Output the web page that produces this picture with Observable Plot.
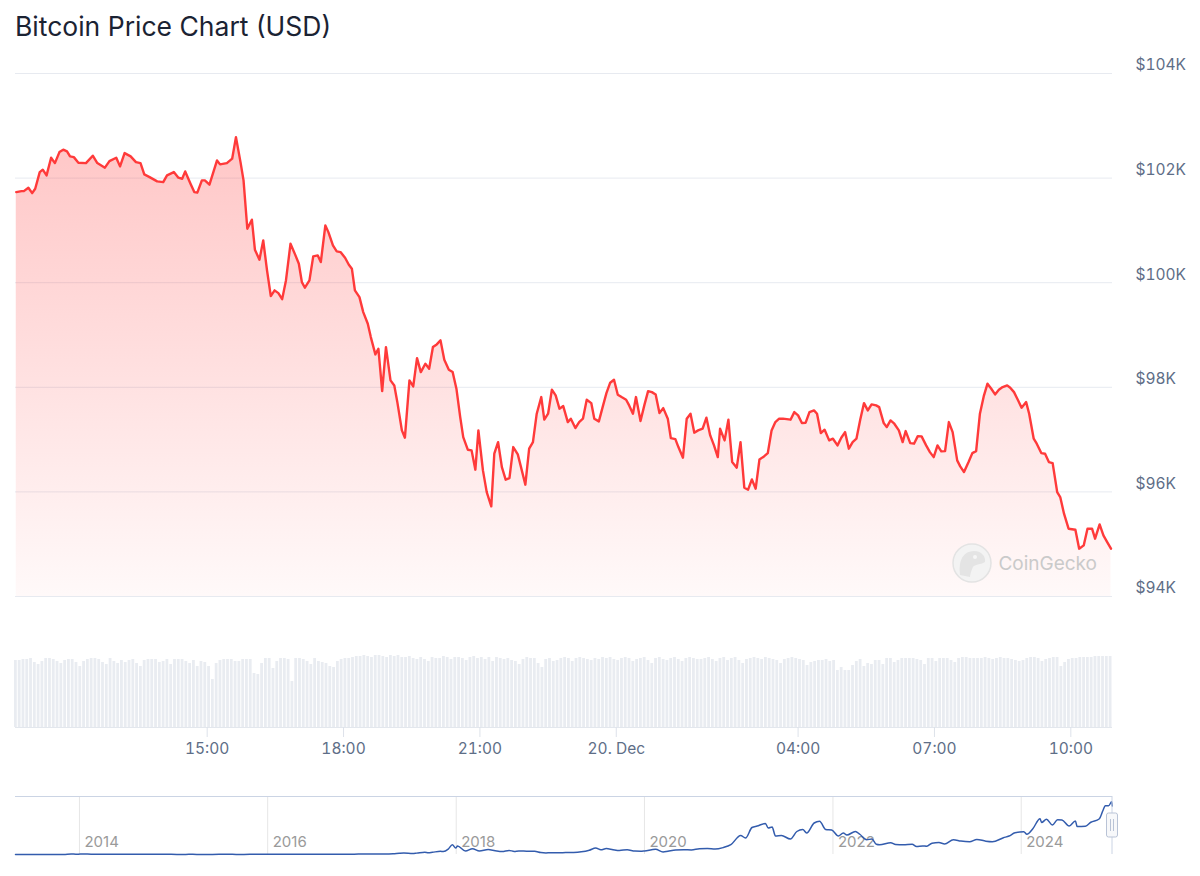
<!DOCTYPE html>
<html>
<head>
<meta charset="utf-8">
<script src="https://cdn.jsdelivr.net/npm/d3@7"></script>
<script src="https://cdn.jsdelivr.net/npm/@observablehq/plot@0.6"></script>
<style>
  html, body { margin: 0; padding: 0; background: #fff; }
  #wrap { position: relative; width: 1200px; height: 876px; overflow: hidden; font-family: Inter, "Noto Sans", sans-serif; }
  #title { position: absolute; left: 15px; top: 11px; font-size: 26.5px; line-height: 30px; color: #1b2333; z-index: 5; font-weight: 400; }
  .layer { position: absolute; left: 0; }
</style>
</head>
<body>
<div id="wrap">
  <div id="title">Bitcoin Price Chart (USD)</div>
  <div id="price" class="layer" style="top:0px"></div>
  <div id="volume" class="layer" style="top:620px"></div>
  <div id="nav" class="layer" style="top:780px"></div>
</div>
<script>
// ---------- data ----------
// minutes after 2024-12-19 00:00 UTC
const priceMinutes = [
648,655,658,664,669,673,679,683,688,694,699,705,710,715,719,724,730,740,749,755,
765,771,780,785,791,799,806,812,817,824,834,842,847,856,862,867,871,878,883,887,
893,897,903,913,917,926,933,938,944,948,953,
959,963,969,974,979,984,989,994,999,1004,1010,1016,1021,1025,1029,1035,1040,1046,1050,1056,
1060,1066,1071,1076,1082,1087,1091,1095,1101,1106,1112,1116,1122,1126,1131,1136,1142,1147,1151,1157,
1161,1167,1172,1177,1182,1188,1193,1198,1203,1208,1213,1219,1224,1229,1234,1238,1244,1249,1254,1258,
1264,1269,1275,1279,1284,1289,1294,1299,1304,1310,1314,1320,1325,1330,1335,1341,1345,1350,1355,1360,
1365,1370,1376,1380,1386,1391,1396,1401,1407,1411,1417,1422,1427,1432,1437,1442,1447,1453,1457,1462,
1466,1472,1477,1482,1487,1492,1497,1502,1508,1512,1518,1522,1528,1533,1538,1543,1548,1554,1559,1564,
1569,1574,1577,
1583,1588,1593,1599,1604,1609,1614,1619,1624,1629,1635,1640,1645,1650,1655,1660,1670,1675,1680,1685,
1690,1695,1701,1705,1710,1715,1721,1726,1732,1737,1742,1747,1752,1757,1762,1767,1772,1777,1783,1787,
1793,1797,1802,1807,1813,1818,1822,1828,1833,1838,1843,1849,1854,1859,1864,1869,1874,1879,1884,1890,
1894,
1899,1905,1910,1915,1920,1925,1930,1935,1940,1945,1950,1956,1960,1965,1970,1975,1981,1985,1991,1995,
2001,2006,2011,2016,2022,2026,2031,2037,2046,2051,2057,2062,2068,2072,2078,2083,2088,2093
];
const priceUSD = [
101732,101751,101751,101816,101713,101797,102115,102161,102052,102390,102287,102497,102543,102510,102415,102401,102294,102287,102428,102287,
102199,102325,102390,102224,102478,102415,102306,102287,102071,102019,101937,101924,102052,102115,102008,101988,102128,101893,101732,101721,
101956,101956,101874,102338,102262,102287,102371,102784,102306,101956,101032,
101205,100631,100440,100809,100235,99744,99853,99801,99686,100044,100746,100541,100363,100011,99904,100044,100503,100522,100394,101096,
100967,100713,100598,100585,100478,100344,100268,99853,99725,99438,99216,98960,98629,98738,97927,98769,98132,98036,97717,97176,
97036,98132,98017,98558,98291,98451,98356,98769,98820,98897,98528,98337,98291,97973,97430,97048,96807,96794,96425,97176,
96411,95996,95723,96730,96952,96474,96233,96264,96857,96717,96488,96138,96826,96952,97495,97813,97381,97495,97954,97845,
97591,97641,97335,97400,97220,97335,97400,97763,97698,97400,97348,97621,97889,98088,98145,97859,97813,97763,97654,97495,
97813,97354,97654,97927,97908,97864,97507,97602,97400,97029,97010,96857,96654,97400,97495,97132,97176,97208,97419,97080,
96889,96665,97208,
96985,97381,96570,96463,96952,96080,96042,96239,96061,96621,96679,96742,97176,97335,97400,97400,97381,97526,97463,97316,
97323,97526,97558,97495,97124,97189,96985,97017,96889,97036,97143,96826,96952,97017,97381,97698,97558,97673,97654,97621,
97316,97239,97367,97304,97176,96952,97163,96933,96922,97067,97061,96889,96761,96665,96889,96774,96780,97335,97143,96602,
96488,
96379,96570,96742,96780,97495,97826,98069,97973,97864,97954,98004,98036,97992,97908,97763,97610,97717,97495,97017,96922,
96742,96730,96570,96551,95996,95901,95583,95296,95277,94914,94977,95296,95296,95105,95379,95168,95040,94914
];
// 5-minute volume bars (relative height units), first bar starts at minute 645
const volumeStartMinute = 645;
const volumeStepMinutes = 5;
const volume = [
67,67,68,68,69,65,63,66,69,69,68,66,64,67,68,68,65,61,66,68,69,69,68,65,63,69,
66,64,67,65,67,68,64,61,67,68,68,68,65,66,68,63,68,68,68,66,64,67,61,66,65,61,
48,64,67,68,68,68,66,66,68,68,68,54,53,64,69,69,59,66,69,69,68,46,69,69,68,
66,63,69,66,65,64,61,60,66,68,69,69,70,71,71,72,71,70,72,72,71,70,72,71,72,70,
70,71,69,68,70,68,66,70,69,69,71,70,68,70,70,69,67,70,71,69,70,68,70,66,70,69,
68,69,67,66,63,68,70,69,69,64,60,68,69,66,67,69,70,69,66,69,70,69,68,67,69,68,70,
69,70,68,67,69,70,69,66,68,69,70,67,64,69,70,68,67,69,70,68,66,69,70,69,68,68,
69,70,68,66,69,70,67,69,70,67,64,68,69,70,69,68,70,69,68,67,64,68,69,70,69,68,
67,62,65,66,67,67,68,66,67,57,60,57,57,62,66,68,61,64,63,67,67,63,69,69,65,67,69,
69,69,69,68,67,63,69,69,66,69,69,69,67,65,69,70,70,69,69,69,69,70,69,68,69,70,
69,69,68,67,66,67,69,70,70,69,66,68,69,70,70,61,65,68,69,69,70,70,70,70,71,71,71,71,71
];
const xDomainMinutes = [647, 2095];
const xTickMinutes = [900, 1080, 1260, 1440, 1680, 1860, 2040];
const xTickLabels = ["15:00", "18:00", "21:00", "20. Dec", "04:00", "07:00", "10:00"];
const yTicks = [94000, 96000, 98000, 100000, 102000, 104000];
const yTickLabels = ["$94K", "$96K", "$98K", "$100K", "$102K", "$104K"];

// navigator: full history
const navDates = [
"2013-04-28","2013-06-01","2013-07-05","2013-08-01","2013-09-01","2013-10-01","2013-11-01","2013-11-30","2013-12-18",
"2014-01-05","2014-02-01","2014-03-01","2014-04-10","2014-05-01","2014-06-01","2014-07-01","2014-08-01","2014-09-01","2014-10-01","2014-11-01","2014-12-01",
"2015-01-14","2015-02-01","2015-03-01","2015-04-01","2015-05-01","2015-06-01","2015-07-01","2015-08-01","2015-09-01","2015-10-01","2015-11-04","2015-12-01",
"2016-01-01","2016-02-01","2016-03-01","2016-04-01","2016-05-01","2016-06-17","2016-07-01","2016-08-01","2016-09-01","2016-10-01","2016-11-01","2016-12-01",
"2017-01-04","2017-01-15","2017-02-01","2017-03-01","2017-03-25","2017-04-01","2017-05-01","2017-05-25","2017-06-12","2017-07-16","2017-08-01","2017-09-01","2017-09-15","2017-10-01","2017-11-01","2017-11-12","2017-12-01","2017-12-17","2017-12-30",
"2018-01-06","2018-02-06","2018-03-05","2018-04-01","2018-05-05","2018-06-01","2018-06-28","2018-07-25","2018-08-14","2018-09-01","2018-10-01","2018-11-01","2018-11-25","2018-12-15",
"2019-01-01","2019-02-01","2019-03-01","2019-04-01","2019-05-01","2019-06-01","2019-06-26","2019-07-16","2019-08-06","2019-09-01","2019-09-26","2019-10-26","2019-11-25","2019-12-17",
"2020-01-01","2020-02-13","2020-03-13","2020-04-01","2020-05-01","2020-06-01","2020-07-01","2020-08-01","2020-09-01","2020-10-01","2020-11-01","2020-12-01",
"2021-01-08","2021-01-27","2021-02-21","2021-03-13","2021-04-14","2021-04-25","2021-05-10","2021-05-23","2021-06-15","2021-07-20","2021-08-14","2021-09-06","2021-09-21","2021-10-20","2021-11-10","2021-12-04","2021-12-27",
"2022-01-22","2022-02-10","2022-02-24","2022-03-29","2022-04-15","2022-05-12","2022-06-01","2022-06-18","2022-07-01","2022-08-13","2022-09-01","2022-10-01","2022-11-04","2022-11-21","2022-12-15","2022-12-31",
"2023-01-20","2023-02-16","2023-03-10","2023-04-13","2023-05-12","2023-06-15","2023-07-13","2023-08-17","2023-09-11","2023-10-24","2023-11-15","2023-12-08",
"2024-01-11","2024-01-23","2024-02-15","2024-03-14","2024-03-20","2024-04-08","2024-05-01","2024-05-21","2024-06-07","2024-07-05","2024-07-29","2024-08-05","2024-09-06","2024-09-27","2024-10-29","2024-11-13","2024-11-22","2024-12-05","2024-12-17","2024-12-19"
];
const navPrices = [
135,120,80,105,140,130,205,1130,520,
950,820,550,360,450,650,640,590,480,385,330,380,
175,225,255,245,235,225,260,280,230,237,400,360,
430,370,435,417,450,750,675,620,572,610,730,750,
1130,820,990,1220,930,1080,1420,2500,2950,1930,2750,4750,3300,4350,6500,5950,10900,19500,12800,
17100,6900,11500,6850,9800,7500,5900,8200,6200,7000,6600,6350,3900,3200,
3750,3450,3850,4100,5350,8550,12900,9400,11800,9600,8050,9500,6900,6640,
7200,10350,4900,6400,8800,9450,9150,11350,11900,10780,13800,19700,
38000,33000,54000,57000,62000,53000,55000,37000,38000,31000,46000,50000,43000,63000,66500,50000,49000,
37000,43000,39000,46000,40500,29500,31000,20500,19500,23500,20000,19300,20500,16200,17200,16550,
22700,23800,21000,29500,26800,25500,30200,26600,25600,33500,37000,43500,
45500,40500,51500,71500,64000,70500,59000,69500,69000,57000,67000,56000,56500,64500,71000,88000,97500,97500,105500,97000
];
const navDomainDates = ["2013-04-28", "2024-12-20"];
const navYMax = 116000;
const yearTicks = ["2014-01-01","2016-01-01","2018-01-01","2020-01-01","2022-01-01","2024-01-01"];
const yearLabels = ["2014","2016","2018","2020","2022","2024"];

// ---------- build ----------
const base = Date.UTC(2024, 11, 19);
const toDate = m => new Date(base + m * 60000);
const priceData = priceMinutes.map((m, i) => ({t: toDate(m), p: priceUSD[i]}));
const volData = volume.map((v, i) => ({
  t1: toDate(volumeStartMinute + i * volumeStepMinutes),
  t2: toDate(volumeStartMinute + (i + 1) * volumeStepMinutes),
  v
}));
const xDomain = xDomainMinutes.map(toDate);
const xTicks = xTickMinutes.map(toDate);
const fmtX = d => xTickLabels[xTicks.findIndex(t => +t === +d)];
const fmtY = d => yTickLabels[yTicks.indexOf(d)];
const navData = navDates.map((d, i) => ({d: new Date(d + "T00:00Z"), p: navPrices[i]}));
const yearData = yearTicks.map((d, i) => ({d: new Date(d + "T00:00Z"), label: yearLabels[i]}));

const NS = "http://www.w3.org/2000/svg";
function el(name, attrs) {
  const e = document.createElementNS(NS, name);
  for (const k in attrs) e.setAttribute(k, attrs[k]);
  return e;
}
function gradientDefs() {
  const defs = el("defs", {});
  const g = el("linearGradient", {id: "btcFill", x1: 0, y1: 0, x2: 0, y2: 1});
  g.appendChild(el("stop", {offset: "0", "stop-color": "#ff3b3b", "stop-opacity": 0.29}));
  g.appendChild(el("stop", {offset: "1", "stop-color": "#ff3b3b", "stop-opacity": 0.03}));
  defs.appendChild(g);
  return defs;
}
function watermark(index, scales, values, dims) {
  const right = dims.width - dims.marginRight;
  const bottom = dims.height - dims.marginBottom;
  const cy = bottom - 33;
  const g = el("g", {});
  const cx = right - 140;
  g.appendChild(el("circle", {cx, cy, r: 19, fill: "#f3f3f3", stroke: "#e3e3e3", "stroke-width": 1.5}));
  g.appendChild(el("path", {
    d: `M${cx-12},${cy+12} C${cx-14},${cy-4} ${cx-8},${cy-12} ${cx+2},${cy-12} C${cx+10},${cy-12} ${cx+14},${cy-6} ${cx+13},${cy-1} C${cx+8},${cy+2} ${cx+3},${cy+1} ${cx+1},${cy+4} C${cx-1},${cy+8} ${cx-2},${cy+12} ${cx-2},${cy+14} Z`,
    fill: "#e4e4e4"
  }));
  g.appendChild(el("circle", {cx: cx + 3, cy: cy - 6, r: 2, fill: "#f6f6f6"}));
  const t = el("text", {x: right - 15, y: cy, "text-anchor": "end", "dominant-baseline": "central",
    "font-size": 19, fill: "#cacaca", "font-family": "Inter, sans-serif"});
  t.textContent = "CoinGecko";
  g.appendChild(t);
  return g;
}
function navHandle(index, scales, values, dims) {
  const right = dims.width - dims.marginRight;
  const top = dims.marginTop;
  const bottom = dims.height - dims.marginBottom;
  const g = el("g", {});
  g.appendChild(el("line", {x1: right, x2: right, y1: top, y2: bottom, stroke: "#cbd4e4", "stroke-width": 1}));
  const hy = top + 17;
  g.appendChild(el("rect", {x: right - 5.5, y: hy, width: 11, height: 24, rx: 2, fill: "#f7f8fa", stroke: "#b9c3d6", "stroke-width": 1}));
  g.appendChild(el("line", {x1: right - 1.5, x2: right - 1.5, y1: hy + 6, y2: hy + 18, stroke: "#b9c3d6"}));
  g.appendChild(el("line", {x1: right + 1.5, x2: right + 1.5, y1: hy + 6, y2: hy + 18, stroke: "#b9c3d6"}));
  return g;
}

const commonStyle = {fontFamily: "Inter, 'Noto Sans', sans-serif", fontSize: "15px", background: "transparent", overflow: "visible"};

const pricePlot = Plot.plot({
  width: 1200, height: 620,
  marginTop: 73, marginBottom: 24, marginLeft: 15, marginRight: 88,
  style: commonStyle,
  x: {type: "utc", domain: xDomain, axis: null},
  y: {domain: [94000, 104000], axis: null},
  marks: [
    gradientDefs,
    Plot.gridY(yTicks, {stroke: "#e7eaf0", strokeOpacity: 1}),
    Plot.areaY(priceData, {x: "t", y1: 94000, y2: "p", fill: "url(#btcFill)"}),
    watermark,
    Plot.lineY(priceData, {x: "t", y: "p", stroke: "#ff3a3a", strokeWidth: 2.4, strokeLinejoin: "round", strokeLinecap: "round"}),
    Plot.axisY(yTicks, {anchor: "right", tickSize: 0, tickPadding: 23, tickFormat: fmtY, dy: -8, fill: "#5e6e87", fontSize: 15.5, label: null})
  ]
});
document.getElementById("price").appendChild(pricePlot);

const volumePlot = Plot.plot({
  width: 1200, height: 150,
  marginTop: 35, marginBottom: 43, marginLeft: 15, marginRight: 88,
  style: commonStyle,
  x: {type: "utc", domain: xDomain, axis: null},
  y: {domain: [0, 72], axis: null},
  marks: [
    Plot.rectY(volData, {x1: "t1", x2: "t2", y: "v", fill: "#e9ecf1", insetLeft: 0.5, insetRight: 0.5}),
    Plot.ruleY([0], {stroke: "#e3e7ed"}),
    Plot.axisX(xTicks, {anchor: "bottom", tickSize: 10, tickPadding: 5, tickFormat: fmtX, stroke: "#dde2ea", fill: "#5e6e87", fontSize: 15.5, label: null})
  ]
});
document.getElementById("volume").appendChild(volumePlot);

const navPlot = Plot.plot({
  width: 1200, height: 96,
  marginTop: 16, marginBottom: 22, marginLeft: 15, marginRight: 88,
  style: commonStyle,
  x: {type: "utc", domain: navDomainDates.map(d => new Date(d + "T00:00Z")), axis: null},
  y: {domain: [0, navYMax], axis: null},
  marks: [
    Plot.ruleX(yearData, {x: "d", stroke: "#e6e6e6"}),
    Plot.text(yearData, {x: "d", text: "label", frameAnchor: "bottom", dy: -12, dx: 5, textAnchor: "start", lineAnchor: "middle", fill: "#9a9a9a", fontSize: 15}),
    Plot.ruleY([navYMax], {stroke: "#cbd4e4"}),
    Plot.line(navData, {x: "d", y: "p", stroke: "#335cad", strokeWidth: 1.5, curve: "monotone-x"}),
    navHandle
  ]
});
document.getElementById("nav").appendChild(navPlot);
</script>
</body>
</html>
